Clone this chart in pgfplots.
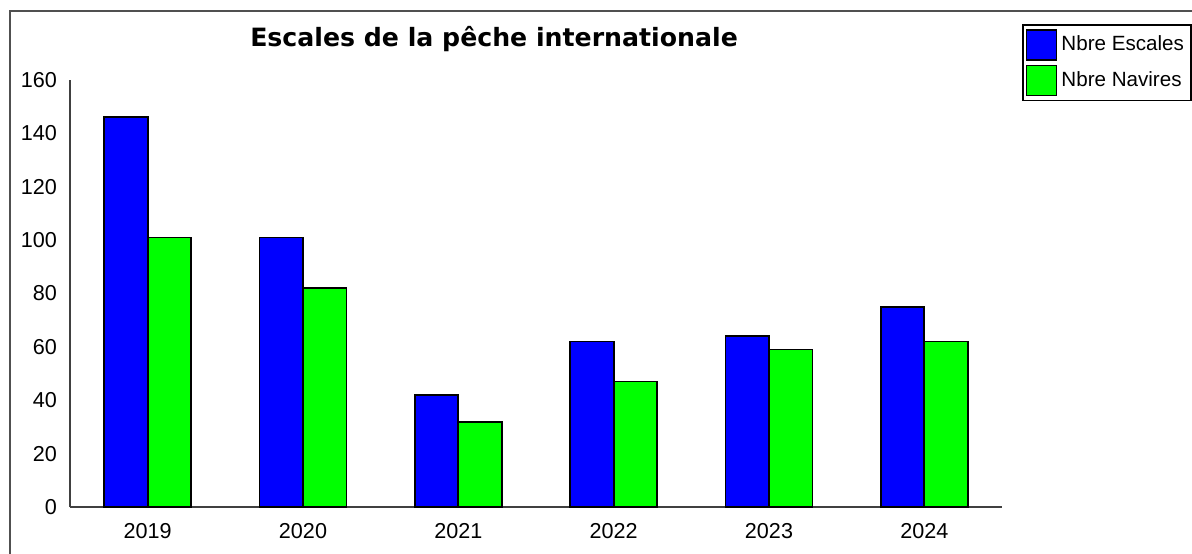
\documentclass[border=0pt]{standalone}
\usepackage{pgfplots}
\pgfplotsset{compat=1.18}
\usepackage{fontspec}
\setmainfont{Liberation Sans}
\newfontfamily\titlefont{DejaVu Sans}
\definecolor{barblue}{RGB}{0,0,255}
\definecolor{bargreen}{RGB}{0,255,0}
\definecolor{axisgray}{RGB}{64,64,64}
\definecolor{framegray}{RGB}{80,80,80}
\begin{document}
\begin{tikzpicture}
\path[use as bounding box] (0,0) rectangle (596pt,276.5pt);
\draw[framegray, line width=1pt] (4.75pt,-2pt) -- (4.75pt,270.75pt) -- (600pt,270.75pt);
\begin{axis}[
  at={(35pt,23pt)}, anchor=south west,
  scale only axis, width=466pt, height=213.5pt,
  xmin=-0.5, xmax=5.5, ymin=0, ymax=160,
  axis x line*=bottom, axis y line*=left,
  axis line style={axisgray, line width=1pt, -},
  xtick={0,1,2,3,4,5},
  xticklabels={2019,2020,2021,2022,2023,2024},
  ytick={0,20,...,160},
  major tick length=0pt,
  tick label style={font=\fontsize{10.8}{12}\selectfont, text=black},
  /pgf/number format/assume math mode=true,
  xticklabel style={yshift=-4.5pt},
  yticklabel style={xshift=-3pt},
  every axis title shift=0pt,
  title={\titlefont\bfseries\fontsize{12.6}{15}\selectfont Escales de la pêche internationale},
  title style={at={(0.455,1.0773)}, anchor=base, inner sep=0pt, yshift=0pt},
  ybar, bar width=0.28,
  legend style={at={(1.0215,1.1304)}, anchor=north west, draw=black, line width=0.8pt,
    font=\fontsize{10.3}{12}\selectfont, inner xsep=1.5pt, inner ysep=2pt,
    row sep=2pt, cells={anchor=west}},
  legend image code/.code={\draw[#1, line width=0.8pt] (0pt,-7.5pt) rectangle (15pt,7.5pt);},
]
\addplot[bar shift=-0.14, fill=barblue, draw=black, line width=0.9pt]
  coordinates {(0,146) (1,101) (2,42) (3,62) (4,64) (5,75)};
\addplot[bar shift=0.14, fill=bargreen, draw=black, line width=0.9pt]
  coordinates {(0,101) (1,82) (2,32) (3,47) (4,59) (5,62)};
\legend{Nbre Escales, Nbre Navires}
\end{axis}
\end{tikzpicture}
\end{document}
